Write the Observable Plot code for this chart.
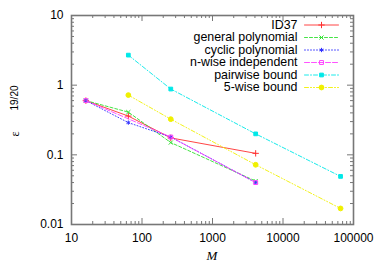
<!DOCTYPE html>
<html><head><meta charset="utf-8">
<script src="https://cdn.jsdelivr.net/npm/d3@7"></script>
<script src="https://cdn.jsdelivr.net/npm/@observablehq/plot@0.6"></script>
<style>body{margin:0;background:#fff}</style>
</head><body><div id="chart"></div>
<script>
// ---- data ----
const seriesNames = ["ID37", "general polynomial", "cyclic polynomial", "n-wise independent", "pairwise bound", "5-wise bound"];
const mID37 = [16, 64, 256, 4096];
const vID37 = [0.6, 0.36, 0.175, 0.105];
const mGeneral = [16, 64, 256, 4096];
const vGeneral = [0.6, 0.41, 0.15, 0.042];
const mCyclic = [16, 64, 256, 4096];
const vCyclic = [0.6, 0.29, 0.18, 0.04];
const mNwise = [16, 256, 4096];
const vNwise = [0.6, 0.18, 0.04];
const mPair = [64, 256, 4096, 65536];
const vPair = [2.7, 0.88, 0.2, 0.049];
const mFive = [64, 256, 4096, 65536];
const vFive = [0.72, 0.325, 0.072, 0.017];
const xTickLabels = [10, 100, 1000, 10000, 100000];
const yTickLabels = [0.01, 0.1, 1, 10];
const xLabel = "M";
const yLabelEps = "ε";
const yLabelExp = "19/20";

// ---- styles ----
const SANS = "'Liberation Sans', Arial, sans-serif";
const SERIF = "'Liberation Serif', 'Times New Roman', serif";
const styles = [
  {color: "#ff3030", dash: null, symbol: "plus", r: 2.2, filled: false},
  {color: "#30e030", dash: "3,2", symbol: "times", r: 2, filled: false},
  {color: "#3030ff", dash: "1,2", symbol: "asterisk", r: 2, filled: false},
  {color: "#ff40ff", dash: "5,2", symbol: "square", r: 2.2, filled: false},
  {color: "#00e8e8", dash: "4,2,1,2", symbol: "square", r: 2.1, filled: true},
  {color: "#f0f000", dash: "4,2,1,2,1,2", symbol: "circle", r: 2.4, filled: true}
];
const xs = [mID37, mGeneral, mCyclic, mNwise, mPair, mFive];
const ys = [vID37, vGeneral, vCyclic, vNwise, vPair, vFive];
const series = seriesNames.map((name, i) => xs[i].map((m, j) => ({name, m, v: ys[i][j]})));

const W = 374, H = 262, mL = 71, mR = 21, mT = 15, mB = 38;
const plotH = H - mT - mB, plotW = W - mL - mR;
const xDomain = [10, 100000], yDomain = [0.01, 10];
const px = d3.scaleLog().domain(xDomain).range([mL, W - mR]);
const py = d3.scaleLog().domain(yDomain).range([H - mB, mT]);

// minor ticks
const minor = (lo, hi) => { const out = []; for (let d = lo; d < hi; d *= 10) for (let k = 2; k <= 9; k++) out.push(d * k); return out; };
const xMinor = minor(10, 100000), yMinor = minor(0.01, 10);
const frameColor = "#777";

const marks = [];
const tx = (vals, len) => [
  Plot.tickX(vals, {x: d => d, insetBottom: plotH - len, stroke: frameColor, strokeWidth: 1}),
  Plot.tickX(vals, {x: d => d, insetTop: plotH - len, stroke: frameColor, strokeWidth: 1})
];
const ty = (vals, len) => [
  Plot.tickY(vals, {y: d => d, insetRight: plotW - len, stroke: frameColor, strokeWidth: 1}),
  Plot.tickY(vals, {y: d => d, insetLeft: plotW - len, stroke: frameColor, strokeWidth: 1})
];
marks.push(...tx(xTickLabels, 6), ...tx(xMinor, 3), ...ty(yTickLabels, 6), ...ty(yMinor, 3));

// series
series.forEach((data, i) => {
  const s = styles[i];
  marks.push(Plot.line(data, {x: "m", y: "v", stroke: s.color, strokeWidth: 0.9, strokeDasharray: s.dash}));
  marks.push(Plot.dot(data, {x: "m", y: "v", symbol: s.symbol, r: s.r, stroke: s.color, strokeWidth: 1, fill: s.filled ? s.color : "none"}));
});

// legend
const legY0 = 24.5, legStep = 12.5, legX1 = 304, legX2 = 338, legXm = 321, legText = 297;
seriesNames.forEach((name, i) => {
  const s = styles[i];
  const yv = py.invert(legY0 + i * legStep);
  const seg = [{m: px.invert(legX1), v: yv}, {m: px.invert(legX2), v: yv}];
  marks.push(Plot.line(seg, {x: "m", y: "v", stroke: s.color, strokeWidth: 0.9, strokeDasharray: s.dash}));
  marks.push(Plot.dot([{m: px.invert(legXm), v: yv}], {x: "m", y: "v", symbol: s.symbol, r: s.r, stroke: s.color, strokeWidth: 1, fill: s.filled ? s.color : "none"}));
  marks.push(Plot.text([name], {x: () => px.invert(legText), y: () => yv, text: d => d, textAnchor: "end", lineAnchor: "middle", fontSize: 12.4, fontFamily: SANS, fill: "#000"}));
});

marks.push(Plot.frame({stroke: frameColor, strokeWidth: 1.6}));

marks.push(Plot.axisX({ticks: xTickLabels, tickFormat: d => String(d), tickSize: 0, tickPadding: 9, fontSize: 12, fontFamily: SANS, label: null}));
marks.push(Plot.axisY({ticks: yTickLabels, tickFormat: d => String(d), tickSize: 0, tickPadding: 8, fontSize: 12, fontFamily: SANS, label: null}));
marks.push(Plot.text([xLabel], {frameAnchor: "bottom", dx: -0.5, dy: 31, text: d => d, fontStyle: "italic", fontFamily: SERIF, fontSize: 13, lineAnchor: "middle"}));
marks.push(Plot.text([yLabelExp], {frameAnchor: "left", dx: -56.5, dy: -9.5, rotate: -90, text: d => d, fontFamily: SANS, fontSize: 10, lineAnchor: "middle"}));
marks.push(Plot.text([yLabelEps], {frameAnchor: "left", dx: -56.5, dy: 16.5, rotate: -90, text: d => d, fontFamily: SERIF, fontSize: 12, lineAnchor: "middle"}));

const chart = Plot.plot({
  width: W, height: H,
  marginLeft: mL, marginRight: mR, marginTop: mT, marginBottom: mB,
  style: {fontFamily: SANS, fontSize: "12px", background: "#fff", color: "#000"},
  x: {type: "log", domain: xDomain},
  y: {type: "log", domain: yDomain},
  marks
});
document.getElementById("chart").appendChild(chart);
</script>
</body></html>
